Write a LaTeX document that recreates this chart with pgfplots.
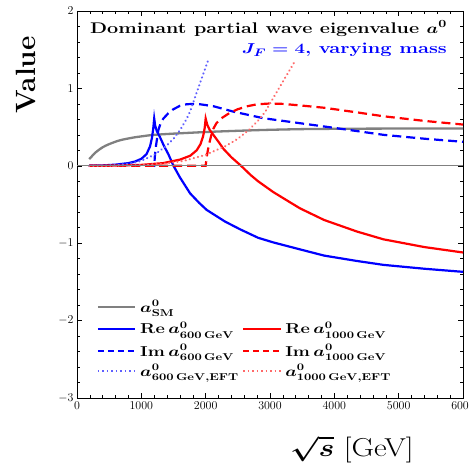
\documentclass[border=0pt]{standalone}
\usepackage{pgfplots}
\pgfplotsset{compat=1.18}
\definecolor{smgray}{RGB}{128,128,128}
\definecolor{myblue}{RGB}{0,0,255}
\definecolor{myred}{RGB}{255,0,0}
\definecolor{lblue}{RGB}{95,95,255}
\definecolor{lred}{RGB}{255,105,105}
\tikzset{lgtext/.style={anchor=base west, inner sep=0, xscale=1.27, transform shape,
    font=\boldmath\bfseries\fontsize{14.5}{16}\selectfont}}
\begin{document}
\begin{tikzpicture}
\begin{axis}[
  width=386bp, height=387bp, scale only axis,
  xmin=0, xmax=6000, ymin=-3, ymax=2,
  xtick={0,1000,2000,3000,4000,5000,6000},
  ytick={-3,-2,-1,0,1,2},
  minor x tick num=4, minor y tick num=4,
  tick align=inside, tickpos=both,
  major tick length=5bp, minor tick length=3bp,
  every tick/.style={black, line width=0.6bp},
  axis line style={black, line width=0.8bp},
  scaled x ticks=false,
  xticklabel style={/pgf/number format/1000 sep=, font=\fontsize{13}{15}\selectfont},
  yticklabel style={font=\fontsize{13}{15}\selectfont},
  clip=false,
]
% SM
\addplot[smgray, line width=2.3bp, smooth] coordinates {
(190,0.086) (250,0.14) (306,0.185) (400,0.24) (500,0.28) (668,0.33) (875,0.365)
(1000,0.38) (1200,0.40) (1600,0.42) (2100,0.44) (2600,0.455) (3000,0.465)
(3600,0.475) (4500,0.48) (6000,0.483)};

% Re 600
\addplot[myblue, line width=2.2bp] coordinates {
(190,0) (400,0.005) (600,0.015) (800,0.035) (900,0.055) (1000,0.09) (1080,0.15)
(1135,0.25) (1165,0.36) (1185,0.48) (1200,0.61)
(1215,0.52) (1240,0.45) (1290,0.37) (1350,0.26) (1420,0.15) (1500,0.0) (1600,-0.15)
(1757,-0.355) (1900,-0.48) (2016,-0.57) (2300,-0.72) (2534,-0.82) (2815,-0.93)
(3052,-0.99) (3467,-1.08) (3841,-1.16) (4354,-1.23) (4764,-1.28) (5400,-1.33) (6000,-1.37)};

% Re 1000
\addplot[myred, line width=2.2bp] coordinates {
(190,0) (600,0.004) (1000,0.012) (1340,0.035) (1600,0.08) (1760,0.13) (1860,0.2)
(1920,0.28) (1960,0.38) (1985,0.49) (2000,0.61)
(2025,0.53) (2065,0.46) (2119,0.40) (2200,0.31) (2275,0.22) (2400,0.11) (2550,0.0)
(2700,-0.12) (2815,-0.2) (3052,-0.34) (3328,-0.48) (3467,-0.55) (3841,-0.70)
(4354,-0.85) (4764,-0.95) (5400,-1.05) (6000,-1.12)};

% Im 600
\addplot[myblue, line width=2.2bp, dash pattern=on 9bp off 5bp] coordinates {
(190,0) (1200,0) (1210,0.12) (1228,0.26) (1264,0.46) (1300,0.55) (1342,0.61)
(1420,0.68) (1497,0.73) (1600,0.775) (1705,0.795) (1808,0.80) (1912,0.795)
(2119,0.77) (2430,0.70) (2896,0.615) (3468,0.55) (4000,0.49) (4764,0.40)
(5400,0.35) (6000,0.31)};

% Im 1000
\addplot[myred, line width=2.2bp, dash pattern=on 9bp off 5bp] coordinates {
(190,0) (2000,0) (2017,0.12) (2047,0.26) (2107,0.46) (2167,0.55) (2237,0.61)
(2367,0.68) (2495,0.73) (2650,0.77) (2800,0.795) (3000,0.805) (3200,0.80)
(3468,0.78) (3841,0.75) (4354,0.69) (4764,0.64) (5400,0.58) (6000,0.533)};

% EFT 600
\addplot[lblue, line width=2.4bp, dash pattern=on 0.01bp off 4.2bp, line cap=round] coordinates {
(190,0) (400,0.002) (600,0.008) (824,0.03) (1000,0.065) (1197,0.14) (1394,0.26)
(1500,0.35) (1601,0.46) (1700,0.6) (1757,0.7) (1861,0.95) (1964,1.19) (2041,1.37)};

% EFT 1000
\addplot[lred, line width=2.4bp, dash pattern=on 0.01bp off 4.2bp, line cap=round] coordinates {
(190,0) (600,0.001) (1000,0.009) (1373,0.03) (1667,0.065) (1995,0.14) (2323,0.26)
(2500,0.35) (2668,0.46) (2833,0.6) (2928,0.7) (3102,0.95) (3273,1.19) (3400,1.37)};

% zero line
\addplot[smgray, line width=1.3bp] coordinates {(0,0) (6000,0)};

% legend (two columns)
\draw[smgray, line width=1.3bp] (rel axis cs:0.0544,0.2351) -- (rel axis cs:0.1503,0.2351);
\node[lgtext] at (rel axis cs:0.1632,0.2222) {$a^0_{\mathbf{SM}}$};
\draw[myblue, line width=1.3bp] (rel axis cs:0.0544,0.1783) -- (rel axis cs:0.1503,0.1783);
\node[lgtext] at (rel axis cs:0.1632,0.1654) {$\mathbf{Re}\,a^0_{600\,\mathbf{GeV}}$};
\draw[myblue, line width=1.3bp, dash pattern=on 6bp off 4bp] (rel axis cs:0.0544,0.1214) -- (rel axis cs:0.1503,0.1214);
\node[lgtext] at (rel axis cs:0.1632,0.1085) {$\mathbf{Im}\,a^0_{600\,\mathbf{GeV}}$};
\draw[lblue, line width=1.2bp, dash pattern=on 1.5bp off 3bp] (rel axis cs:0.0544,0.0698) -- (rel axis cs:0.1503,0.0698);
\node[lgtext] at (rel axis cs:0.1632,0.0568) {$a^0_{600\,\mathbf{GeV},\mathbf{EFT}}$};
\draw[myred, line width=1.3bp] (rel axis cs:0.4301,0.1783) -- (rel axis cs:0.5285,0.1783);
\node[lgtext] at (rel axis cs:0.5389,0.1654) {$\mathbf{Re}\,a^0_{1000\,\mathbf{GeV}}$};
\draw[myred, line width=1.3bp, dash pattern=on 6bp off 4bp] (rel axis cs:0.4301,0.1214) -- (rel axis cs:0.5285,0.1214);
\node[lgtext] at (rel axis cs:0.5389,0.1085) {$\mathbf{Im}\,a^0_{1000\,\mathbf{GeV}}$};
\draw[lred, line width=1.2bp, dash pattern=on 1.5bp off 3bp] (rel axis cs:0.4301,0.0698) -- (rel axis cs:0.5285,0.0698);
\node[lgtext] at (rel axis cs:0.5389,0.0568) {$a^0_{1000\,\mathbf{GeV},\mathbf{EFT}}$};

\node[anchor=base east, font=\boldmath\bfseries\fontsize{15.5}{18}\selectfont, inner sep=0, xscale=1.28, transform shape]
  at (rel axis cs:0.959,0.943) {Dominant partial wave eigenvalue $a^0$};
\node[anchor=base east, text=myblue, font=\boldmath\bfseries\fontsize{15.5}{18}\selectfont, inner sep=0, xscale=1.3, transform shape]
  at (rel axis cs:0.959,0.889) {$J_F=4$, varying mass};
\node[rotate=90, font=\bfseries\fontsize{28}{32}\selectfont, inner sep=0]
  at (rel axis cs:-0.132,0.835) {Value};
\node[font=\fontsize{26}{30}\selectfont, inner sep=0, xscale=1.2, transform shape]
  at (rel axis cs:0.712,-0.132) {{\boldmath$\sqrt{s}$}\ [GeV]};

\coordinate (ll) at (rel axis cs:0,0);
\coordinate (ur) at (rel axis cs:1,1);
\end{axis}
\pgfresetboundingbox
\path[use as bounding box] ([shift={(-77bp,-67bp)}]ll) rectangle ([shift={(6bp,11bp)}]ur);
\end{tikzpicture}
\end{document}
